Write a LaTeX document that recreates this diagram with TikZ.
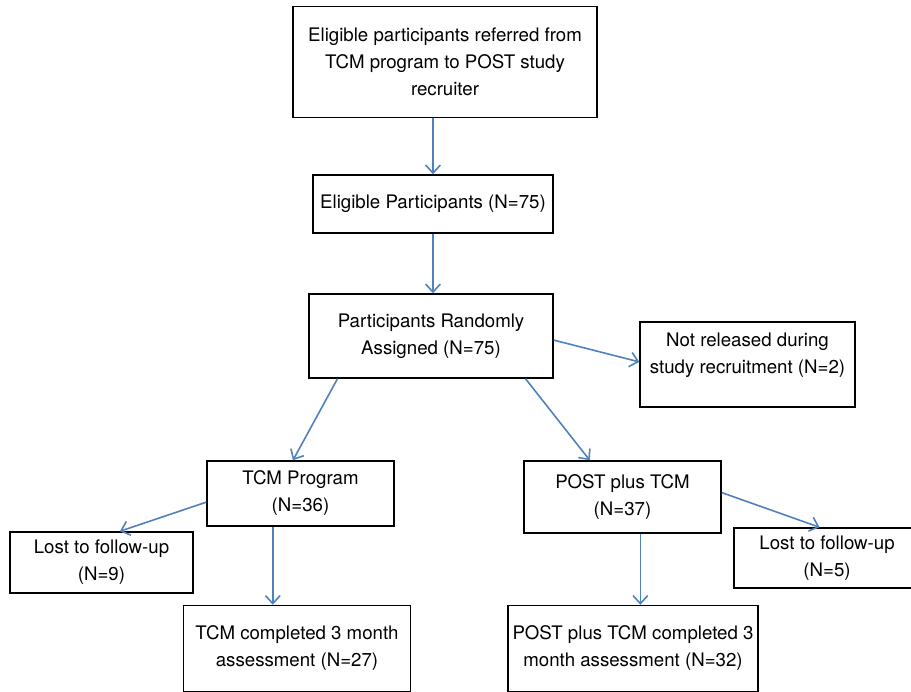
\documentclass[tikz,border=0pt]{standalone}
\usepackage{fontspec}
\setmainfont{TeX Gyre Heros}
\usetikzlibrary{calc,arrows.meta}

\tikzset{every picture/.style={line width=0.75pt}}
\tikzset{
  box/.style={draw, line width=1.1pt, align=center, inner sep=0pt,
    font=\fontsize{14}{20.25}\selectfont},
  flow/.style={draw={rgb,255:red,79;green,129;blue,189}, line width=1.2pt,
    -{Straight Barb[length=6pt,width=11pt,line width=1.2pt]}}
}

\begin{document}
\begin{tikzpicture}[x=0.75pt,y=0.75pt,yscale=-1,xscale=1]
	\useasboundingbox (0,0) rectangle (911,692);

	% Text Node
	\node[box, minimum width=228pt, minimum height=83.25pt] (top) at (445,62) {Eligible participants referred from\\TCM program to POST study\\recruiter};
	% Text Node
	\node[box, minimum width=180pt, minimum height=43.5pt] (elig) at (433,204) {Eligible Participants (N=75)};
	% Text Node
	\node[box, minimum width=183pt, minimum height=63pt] (rand) at (431,336) {Participants Randomly\\Assigned (N=75)};
	% Text Node
	\node[box, minimum width=161.25pt, minimum height=63.75pt, text depth=17pt] (notrel) at (747.5,364.5) {Not released during\\study recruitment (N=2)};
	% Text Node
	\node[box, minimum width=140.25pt, minimum height=48.75pt] (tcm) at (300.5,493.5) {TCM Program\\(N=36)};
	% Text Node
	\node[box, minimum width=147.75pt, minimum height=54pt] (post) at (622.5,497) {POST plus TCM\\(N=37)};
	% Text Node
	\node[box, minimum width=137.25pt, minimum height=45.75pt] (lostl) at (101.5,562.5) {Lost to follow-up\\(N=9)};
	% Text Node
	\node[box, minimum width=139.5pt, minimum height=45pt] (lostr) at (827,558) {Lost to follow-up\\(N=5)};
	% Text Node
	\node[box, minimum width=170.25pt, minimum height=64.5pt] (tcmdone) at (297,648.5) {TCM completed 3 month\\assessment (N=27)};
	% Text Node
	\node[box, minimum width=187.5pt, minimum height=64.5pt] (postdone) at (633,648.5) {POST plus TCM completed 3\\month assessment (N=32)};

	\coordinate (tcmout) at ($(tcm.south west)!0.353!(tcm.south east)$);
	\coordinate (postout) at ($(post.south west)!0.59!(post.south east)$);

	%Straight Lines
	\draw[flow] (top.south -| elig.north) -- (elig.north);
	%Straight Lines
	\draw[flow] (elig.south) -- (elig.south |- rand.north);
	%Straight Lines
	\draw[flow] ($(rand.north east)!0.548!(rand.south east)$) -- ($(notrel.north west)!0.47!(notrel.south west)$);
	%Straight Lines
	\draw[flow] ($(rand.south west)!0.119!(rand.south east)$) -- ($(tcm.north west)!0.46!(tcm.north east)$);
	%Straight Lines
	\draw[flow] ($(rand.south west)!0.885!(rand.south east)$) -- ($(post.north west)!0.335!(post.north east)$);
	%Straight Lines
	\draw[flow] ($(tcm.north west)!0.63!(tcm.south west)$) -- ($(lostl.north west)!0.6!(lostl.north east)$);
	%Straight Lines
	\draw[flow] (tcmout) -- (tcmout |- tcmdone.north);
	%Straight Lines
	\draw[flow] ($(post.north east)!0.44!(post.south east)$) -- ($(lostr.north west)!0.46!(lostr.north east)$);
	%Straight Lines
	\draw[flow] (postout) -- (postout |- postdone.north);

\end{tikzpicture}
\end{document}
